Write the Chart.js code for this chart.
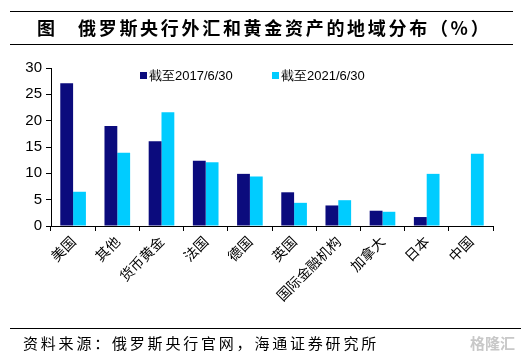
<!DOCTYPE html>
<html>
<head>
<meta charset="utf-8">
<script src="https://cdn.jsdelivr.net/npm/chart.js@4"></script>
<style>
  html, body { margin: 0; padding: 0; background: #fff; }
  #wrap { width: 532px; height: 356px; position: relative; }
</style>
</head>
<body>
<div id="wrap"><canvas id="c" width="532" height="356"></canvas></div>
<script>
// categories and values
const categories = ['美国', '其他', '货币黄金', '法国', '德国', '英国', '国际金融机构', '加拿大', '日本', '中国'];
const share2017 = [27.1, 19.0, 16.1, 12.4, 9.9, 6.4, 3.9, 2.9, 1.7, 0];
const share2021 = [6.5, 13.9, 21.6, 12.1, 9.4, 4.4, 4.9, 2.7, 9.9, 13.7];
const seriesLabels = ['截至2017/6/30', '截至2021/6/30'];
const yTicks = [0, 5, 10, 15, 20, 25, 30];

const titleHead = '图';
const titleText = '俄罗斯央行外汇和黄金资产的地域分布（%）';
const sourceText = '资料来源：俄罗斯央行官网，海通证券研究所';

const NAVY = '#0b0b7d';
const SKY = '#00ccff';

const cjk = '"Noto Sans CJK SC", "Noto Sans", sans-serif';

// title, source note and in-plot legend
const decor = {
  id: 'decor',
  afterDraw(chart) {
    const ctx = chart.ctx;
    ctx.save();
    ctx.strokeStyle = '#000';
    ctx.lineWidth = 1;
    ctx.beginPath();
    ctx.moveTo(10, 11.5); ctx.lineTo(513, 11.5);
    ctx.moveTo(10, 44.5); ctx.lineTo(513, 44.5);
    ctx.moveTo(10, 328.5); ctx.lineTo(521, 328.5);
    ctx.stroke();

    ctx.fillStyle = '#000';
    ctx.textBaseline = 'middle';
    ctx.font = 'bold 18px ' + cjk;
    ctx.fillText(titleHead, 37, 28);
    ctx.letterSpacing = '2.7px';
    ctx.fillText(titleText, 78, 28);
    ctx.font = '15px ' + cjk;
    ctx.letterSpacing = '2.8px';
    ctx.fillText(sourceText, 23, 343);
    ctx.letterSpacing = '0px';

    ctx.fillStyle = '#c8c8c8';
    ctx.font = 'bold 15px ' + cjk;
    ctx.fillText('格隆汇', 470, 343);

    // legend
    const area = chart.chartArea;
    const xs = [area.left + 89, area.left + 221];
    ctx.font = '13px "Liberation Sans", Arial, sans-serif';
    chart.data.datasets.forEach((ds, i) => {
      ctx.fillStyle = ds.backgroundColor;
      ctx.fillRect(xs[i], 72, 7, 7);
      ctx.fillStyle = '#000';
      ctx.fillText(ds.label, xs[i] + 9, 76);
    });
    ctx.restore();
  }
};

new Chart(document.getElementById('c'), {
  type: 'bar',
  data: {
    labels: categories,
    datasets: [
      { label: seriesLabels[0], data: share2017, backgroundColor: NAVY, categoryPercentage: 0.58, barPercentage: 1.0 },
      { label: seriesLabels[1], data: share2021, backgroundColor: SKY, categoryPercentage: 0.58, barPercentage: 1.0 }
    ]
  },
  options: {
    responsive: false,
    animation: false,
    layout: { padding: { top: 68, right: 39, left: 0, bottom: 0 } },
    plugins: {
      legend: { display: false },
      tooltip: { enabled: false }
    },
    scales: {
      x: {
        grid: { display: true, drawOnChartArea: false, offset: true, tickLength: 5, color: '#000' },
        border: { color: '#000' },
        ticks: {
          color: '#000',
          font: { family: cjk, size: 14 },
          minRotation: 45,
          maxRotation: 45,
          padding: 2
        },
        afterFit(scale) { scale.height = 130; }
      },
      y: {
        min: 0,
        max: 30,
        afterBuildTicks(scale) { scale.ticks = yTicks.map(v => ({ value: v })); },
        grid: { display: true, drawOnChartArea: false, tickLength: 5, color: '#000' },
        border: { color: '#000' },
        ticks: {
          color: '#000',
          font: { family: '"Liberation Sans", Arial, sans-serif', size: 15 },
          padding: 4
        },
        afterFit(scale) { scale.width = 51; }
      }
    }
  },
  plugins: [decor]
});
</script>
</body>
</html>
